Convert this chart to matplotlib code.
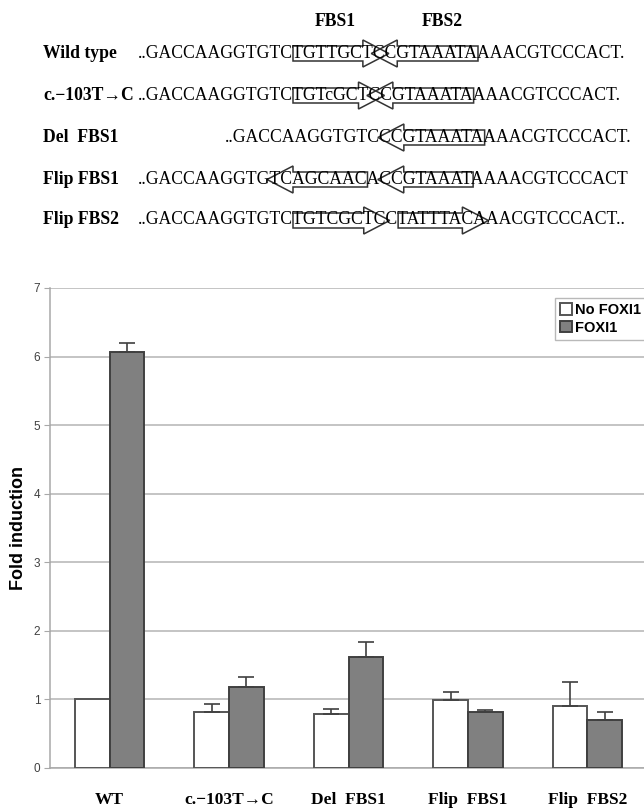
import numpy as np
import matplotlib.pyplot as plt
from matplotlib.patches import Polygon
from matplotlib.font_manager import FontProperties

# bar chart data
groups = ["WT", "c.\u2212103T\u2192C", "Del  FBS1", "Flip  FBS1", "Flip  FBS2"]
no_foxi1 = [1.00, 0.81, 0.79, 0.99, 0.91]
no_foxi1_err = [0.00, 0.13, 0.07, 0.12, 0.34]
foxi1 = [6.07, 1.18, 1.62, 0.82, 0.70]
foxi1_err = [0.13, 0.15, 0.22, 0.03, 0.11]
series_names = ["No FOXI1", "FOXI1"]
yticks = [0, 1, 2, 3, 4, 5, 6, 7]

# sequence panel: each row is a list of (text, arrow) pieces
row_labels = ["Wild type", "c.\u2212103T\u2192C", "Del  FBS1", "Flip FBS1", "Flip FBS2"]
rows = [
    [("..GACCAAGGTGTC", ""), ("TGTTGC", "r"), ("TCC", ""), ("GTAAATA", "l"), ("AAACGTCCCACT.", "")],
    [("..GACCAAGGTGTC", ""), ("TGTcGC", "r"), ("TCC", ""), ("GTAAATA", "l"), ("AAACGTCCCACT.", "")],
    [("..GACCAAGGTGTCC", ""), ("C", ""), ("GTAAATA", "l"), ("AAACGTCCCACT.", "")],
    [("..GACCAAGGTGTC", ""), ("AGCAAC", "l"), ("ACC", ""), ("GTAAAT", "l"), ("AAAACGTCCCACT", "")],
    [("..GACCAAGGTGTC", ""), ("TGTCGC", "r"), ("TCC", ""), ("TATTTA", "r"), ("CAAACGTCCCACT..", "")],
]
site_labels = ["FBS1", "FBS2"]

W, H = 644, 808
fig = plt.figure(figsize=(W / 100, H / 100), dpi=100)

serif = ["Liberation Serif", "DejaVu Serif"]
sans = ["Liberation Sans", "DejaVu Sans"]
fp_seq = FontProperties(family=serif, size=12.7)
fp_lab = FontProperties(family=serif, size=12.7, weight="bold")

renderer = fig.canvas.get_renderer()


def text_w(s, fp):
    w, h, d = renderer.get_text_width_height_descent(s, fp, ismath=False)
    return w


def fx(px):
    return px / W


def fy(py):
    return 1 - py / H


row_y = [53, 95, 137, 179, 220]
seq_x0 = 138
seq_x1 = 632
cap = 12
head_len = 26

site_x = []
for i, (lab, pieces) in enumerate(zip(row_labels, rows)):
    y = row_y[i]
    fig.text(fx(43), fy(y), lab, fontproperties=fp_lab, va="center", ha="left")
    full = "".join(p[0] for p in pieces)
    total = text_w(full, fp_seq)
    x = seq_x0 if i != 2 else seq_x1 - total
    fig.text(fx(x), fy(y), full, fontproperties=fp_seq, va="center", ha="left")
    cx = x
    for txt, arrow in pieces:
        w = text_w(txt, fp_seq)
        if arrow:
            top, bot = y - cap / 2 - 1, y + cap / 2 + 2
            htop, hbot = y - cap - 1, y + cap + 2
            mid = (top + bot) / 2
            a, b = cx, cx + w
            if arrow == "r":
                pts = [(a, top), (b, top), (b, htop), (b + head_len, mid),
                       (b, hbot), (b, bot), (a, bot)]
            else:
                pts = [(b, top), (a, top), (a, htop), (a - head_len, mid),
                       (a, hbot), (a, bot), (b, bot)]
            if i == 0:
                site_x.append((a + b) / 2)
            poly = Polygon([(fx(px), fy(py)) for px, py in pts], closed=True,
                           fill=False, edgecolor="#333333", linewidth=1.1,
                           transform=fig.transFigure)
            fig.add_artist(poly)
        cx += w

for name, sx in zip(site_labels, [site_x[0] + 7, site_x[1] + 5]):
    fig.text(fx(sx), fy(21), name, fontproperties=fp_lab, ha="center", va="center")

# bar chart
ax = fig.add_axes([50 / W, (H - 768) / H, 597 / W, 480 / H])
x = np.arange(len(groups))
bw = 0.29
zeros = np.zeros(len(groups))
ax.bar(x - bw / 2, no_foxi1, bw, color="white", edgecolor="#555555", linewidth=1.4,
       label=series_names[0], zorder=3)
ax.bar(x + bw / 2, foxi1, bw, color="#808080", edgecolor="#404040", linewidth=1.4,
       label=series_names[1], zorder=3)
mask = np.array(no_foxi1_err) > 0
ax.errorbar((x - bw / 2)[mask], np.array(no_foxi1)[mask],
            yerr=[zeros[mask], np.array(no_foxi1_err)[mask]], fmt="none",
            ecolor="#404040", elinewidth=1.2, capsize=5.5, capthick=1.2, zorder=4)
ax.errorbar(x + bw / 2, foxi1, yerr=[zeros, foxi1_err], fmt="none",
            ecolor="#404040", elinewidth=1.2, capsize=5.5, capthick=1.2, zorder=4)

ax.set_xlim(-0.5, 4.5)
ax.set_ylim(0, 7)
ax.set_yticks(yticks)
ax.yaxis.grid(True, color="#b4b4b4", linewidth=1.1, zorder=0)
ax.set_axisbelow(True)
for s in ["top", "right"]:
    ax.spines[s].set_visible(False)
ax.spines["left"].set_color("#a8a8a8")
ax.spines["bottom"].set_color("#a8a8a8")
ax.spines["left"].set_linewidth(1.1)
ax.spines["bottom"].set_linewidth(1.1)
ax.tick_params(axis="y", length=4, color="#a8a8a8", labelsize=8.5, labelcolor="#404040",
               pad=3)
for t in ax.get_yticklabels():
    t.set_fontfamily(sans)
ax.set_xticks(x)
ax.set_xticklabels(groups, fontproperties=FontProperties(family=serif, size=12.5, weight="bold"))
ax.tick_params(axis="x", length=0, pad=17)
ax.set_ylabel("Fold induction", fontfamily=sans, fontsize=13, fontweight="bold", labelpad=5)

leg = ax.legend(loc="upper left", bbox_to_anchor=(505 / 597, 1 - 10 / 480), frameon=True,
                fancybox=False, edgecolor="#a8a8a8", handlelength=0.8, handleheight=0.8,
                handletextpad=0.25, borderpad=0.35, labelspacing=0.25, borderaxespad=0,
                prop=FontProperties(family=sans, size=10.5, weight="bold"))
leg.get_frame().set_linewidth(1.0)

fig.savefig("out.png", dpi=100)
